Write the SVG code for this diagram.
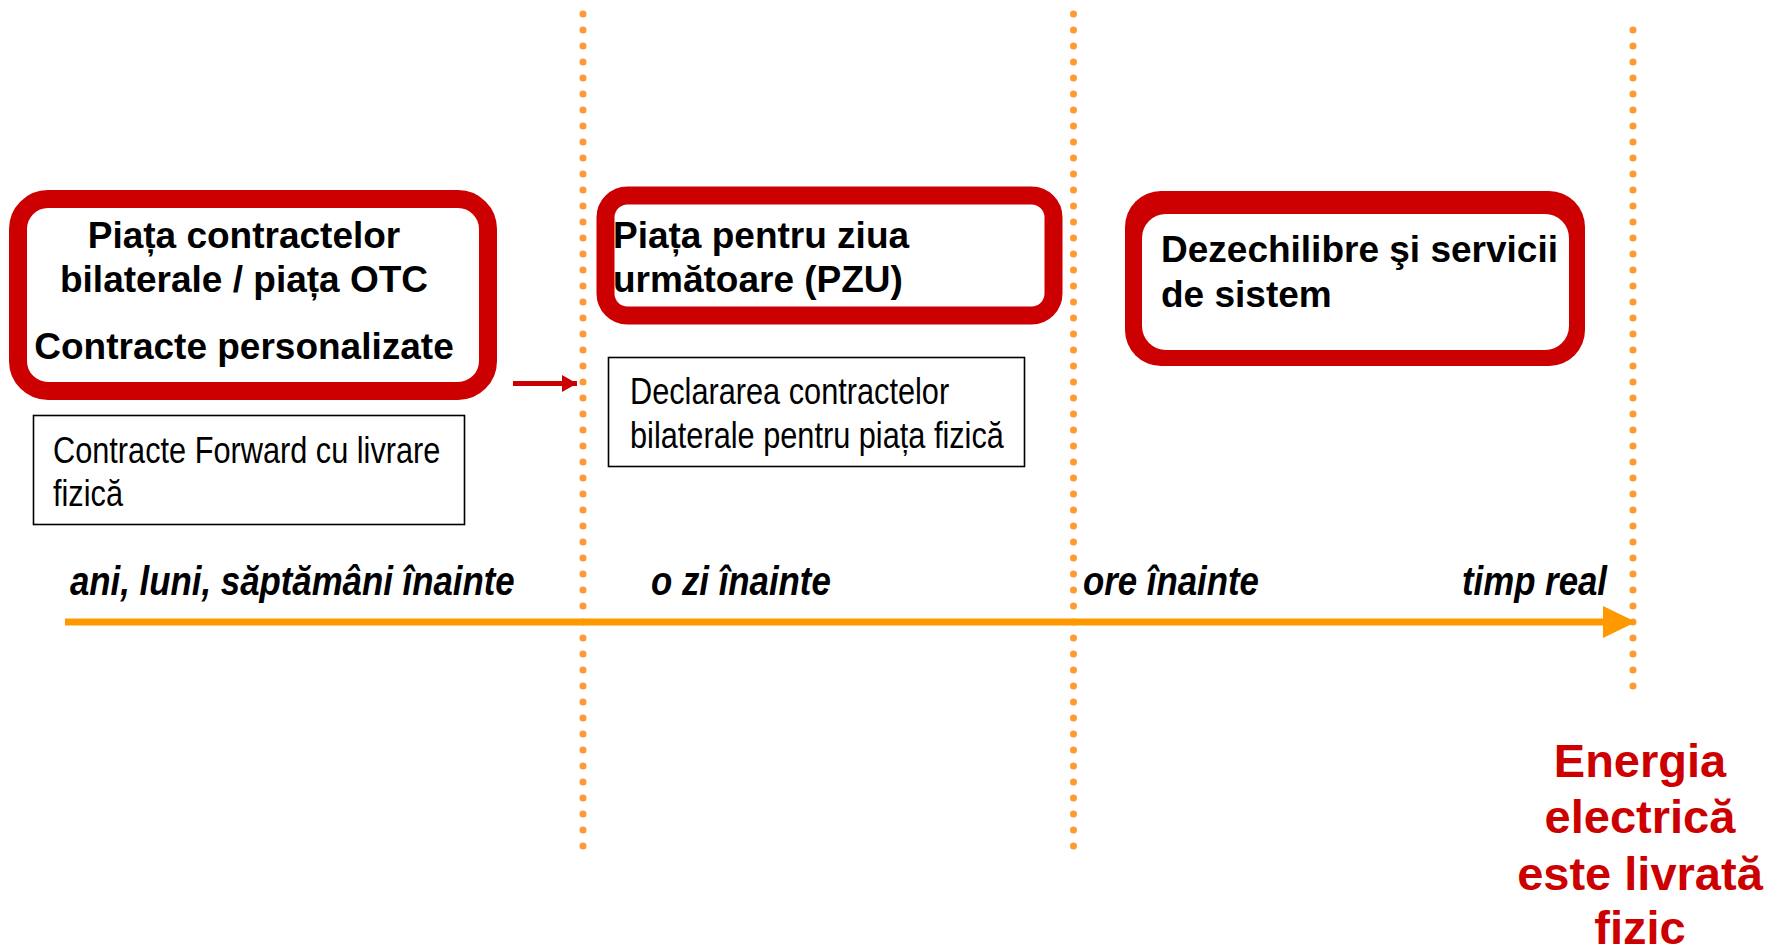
<svg xmlns="http://www.w3.org/2000/svg" width="1770" height="952" viewBox="0 0 1770 952">
<defs>
<style>
.redbox{fill:#fff;stroke:#CC0000;stroke-width:18}
.note{fill:#fff;stroke:#000;stroke-width:1.6}
.bold{font-family:"Liberation Sans",Arial,sans-serif;font-weight:bold;font-size:37px;fill:#000}
.reg{font-family:"Liberation Sans",Arial,sans-serif;font-size:37px;fill:#000}
.tl{font-family:"Liberation Sans",Arial,sans-serif;font-weight:bold;font-style:italic;font-size:40px;fill:#000}
.red{font-family:"Liberation Sans",Arial,sans-serif;font-weight:bold;font-size:47px;fill:#CC0000}
.dots{stroke:#FF9933;stroke-width:7;stroke-linecap:round;stroke-dasharray:0 16;fill:none}
</style>
<marker id="redhead" markerWidth="15" markerHeight="17" refX="15" refY="8.5" orient="auto" markerUnits="userSpaceOnUse" viewBox="0 0 15 17">
<path d="M0,0 L15,8.5 L0,17 Z" fill="#CC0000"/>
</marker>
</defs>
<rect width="1770" height="952" fill="#fff"/>

<g id="guides">
<line class="dots" x1="583" y1="14" x2="583" y2="847"/>
<line class="dots" x1="1073.5" y1="14" x2="1073.5" y2="847"/>
<line class="dots" x1="1633" y1="30" x2="1633" y2="687"/>
</g>

<g id="connectors">
<line x1="65" y1="622" x2="1606" y2="622" stroke="#FF9900" stroke-width="7"/>
<polygon points="1603,606 1636,622 1603,638" fill="#FF9900"/>
<line x1="513" y1="383.5" x2="577" y2="383.5" stroke="#CC0000" stroke-width="5" marker-end="url(#redhead)"/>
</g>

<g id="node-otc">
<rect class="redbox" x="18" y="199" width="470" height="192" rx="30"/>
<text class="bold" text-anchor="middle" x="244" y="248">Piața contractelor</text>
<text class="bold" text-anchor="middle" x="244" y="292">bilaterale / piața OTC</text>
<text class="bold" text-anchor="middle" x="244" y="359">Contracte personalizate</text>
</g>

<g id="note-forward">
<rect class="note" x="33.5" y="415.5" width="431" height="109"/>
<text class="reg" transform="translate(53,463) scale(0.83,1)">Contracte Forward cu livrare</text>
<text class="reg" transform="translate(53,506) scale(0.83,1)">fizică</text>
</g>

<g id="node-pzu">
<rect class="redbox" x="605.5" y="195.5" width="448" height="120" rx="22"/>
<text class="bold" x="613" y="248">Piața pentru ziua</text>
<text class="bold" x="613" y="292">următoare (PZU)</text>
</g>

<g id="note-declarare">
<rect class="note" x="608.5" y="357.5" width="416" height="109"/>
<text class="reg" transform="translate(630,404) scale(0.83,1)">Declararea contractelor</text>
<text class="reg" transform="translate(630,448) scale(0.83,1)">bilaterale pentru piața fizică</text>
</g>

<g id="node-dezechilibre">
<rect x="1125" y="191" width="460" height="175" rx="36" fill="#CC0000"/>
<rect x="1142" y="214" width="427" height="136" rx="24" fill="#fff"/>
<text class="bold" x="1161" y="262">Dezechilibre şi servicii</text>
<text class="bold" x="1161" y="307">de sistem</text>
</g>

<g id="timeline-labels">
<text class="tl" transform="translate(70,595) scale(0.87,1)">ani, luni, săptămâni înainte</text>
<text class="tl" transform="translate(651,595) scale(0.87,1)">o zi înainte</text>
<text class="tl" transform="translate(1083,595) scale(0.87,1)">ore înainte</text>
<text class="tl" transform="translate(1462,595) scale(0.87,1)">timp real</text>
</g>

<g id="delivery">
<text class="red" text-anchor="middle" x="1640" y="777">Energia</text>
<text class="red" text-anchor="middle" x="1640" y="833">electrică</text>
<text class="red" text-anchor="middle" x="1640" y="890">este livrată</text>
<text class="red" text-anchor="middle" x="1640" y="944">fizic</text>
</g>
</svg>
